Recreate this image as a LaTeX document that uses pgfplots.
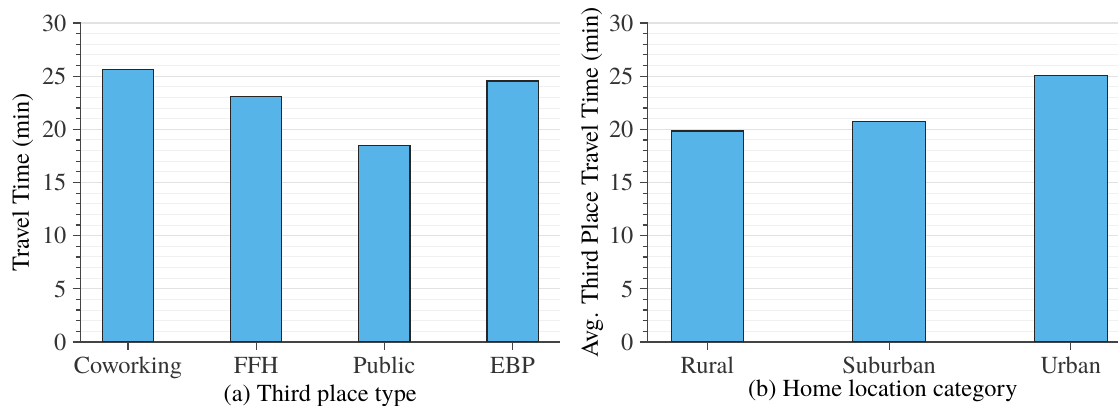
\documentclass[border=0pt]{standalone}
\usepackage{pgfplots}
\pgfplotsset{compat=1.18}
\usepackage{fontspec}
\setmainfont{texgyretermes}[Extension=.otf, UprightFont=*-regular, BoldFont=*-bold, ItalicFont=*-italic, BoldItalicFont=*-bolditalic]
\definecolor{barblue}{HTML}{56B4E9}
\definecolor{axisgray}{HTML}{444444}
\definecolor{majgrid}{HTML}{E2E2E2}
\definecolor{mingrid}{HTML}{F0F0F0}
\pgfplotsset{
  panel/.style={
    scale only axis,
    anchor=south west,
    height=159.5pt,
    ymin=0, ymax=30,
    ytick={0,5,...,30},
    minor y tick num=4,
    axis x line*=bottom,
    axis y line*=left,
    axis line style={axisgray, line width=0.8pt},
    tick style={axisgray, line width=0.6pt},
    major tick length=4pt,
    minor tick length=2.5pt,
    tick align=outside,
    ymajorgrids, yminorgrids,
    major grid style={majgrid, line width=0.6pt},
    minor grid style={mingrid, line width=0.5pt},
    xtick=data,
    ybar, bar width=0.4,
    font=\fontsize{12.2}{14}\selectfont,
    tick label style={font=\fontsize{12.2}{14}\selectfont, text=black!80},
    label style={font=\fontsize{12.2}{14}\selectfont},
    /pgf/number format/assume math mode=true,
    yticklabel style={xshift=0.5pt},
    xlabel style={yshift=4pt},
  },
}
\begin{document}
\begin{tikzpicture}
\begin{axis}[panel,
    at={(40.25pt,32pt)},
    width=239.75pt,
    xmin=-0.37, xmax=3.37,
    xticklabels={Coworking,FFH,Public,EBP},
    xlabel={(a) Third place type},
    ylabel={Travel Time (min)},
    ylabel style={yshift=-2.5pt},
  ]
  \addplot[fill=barblue, draw=black!85, line width=0.6pt]
    coordinates {(0,25.65) (1,23.1) (2,18.5) (3,24.55)};
\end{axis}
\begin{axis}[panel,
    at={(323.75pt,32pt)},
    width=235.25pt,
    xmin=-0.33, xmax=2.26,
    xticklabels={Rural,Suburban,Urban},
    xlabel={(b) Home location category},
    ylabel={Avg. Third Place Travel Time (min)},
    ylabel style={yshift=-4pt},
  ]
  \addplot[fill=barblue, draw=black!85, line width=0.6pt]
    coordinates {(0,19.85) (1,20.7) (2,25.05)};
\end{axis}
\pgfresetboundingbox
\path[use as bounding box] (0,0) rectangle (559pt,203pt);
\end{tikzpicture}
\end{document}
